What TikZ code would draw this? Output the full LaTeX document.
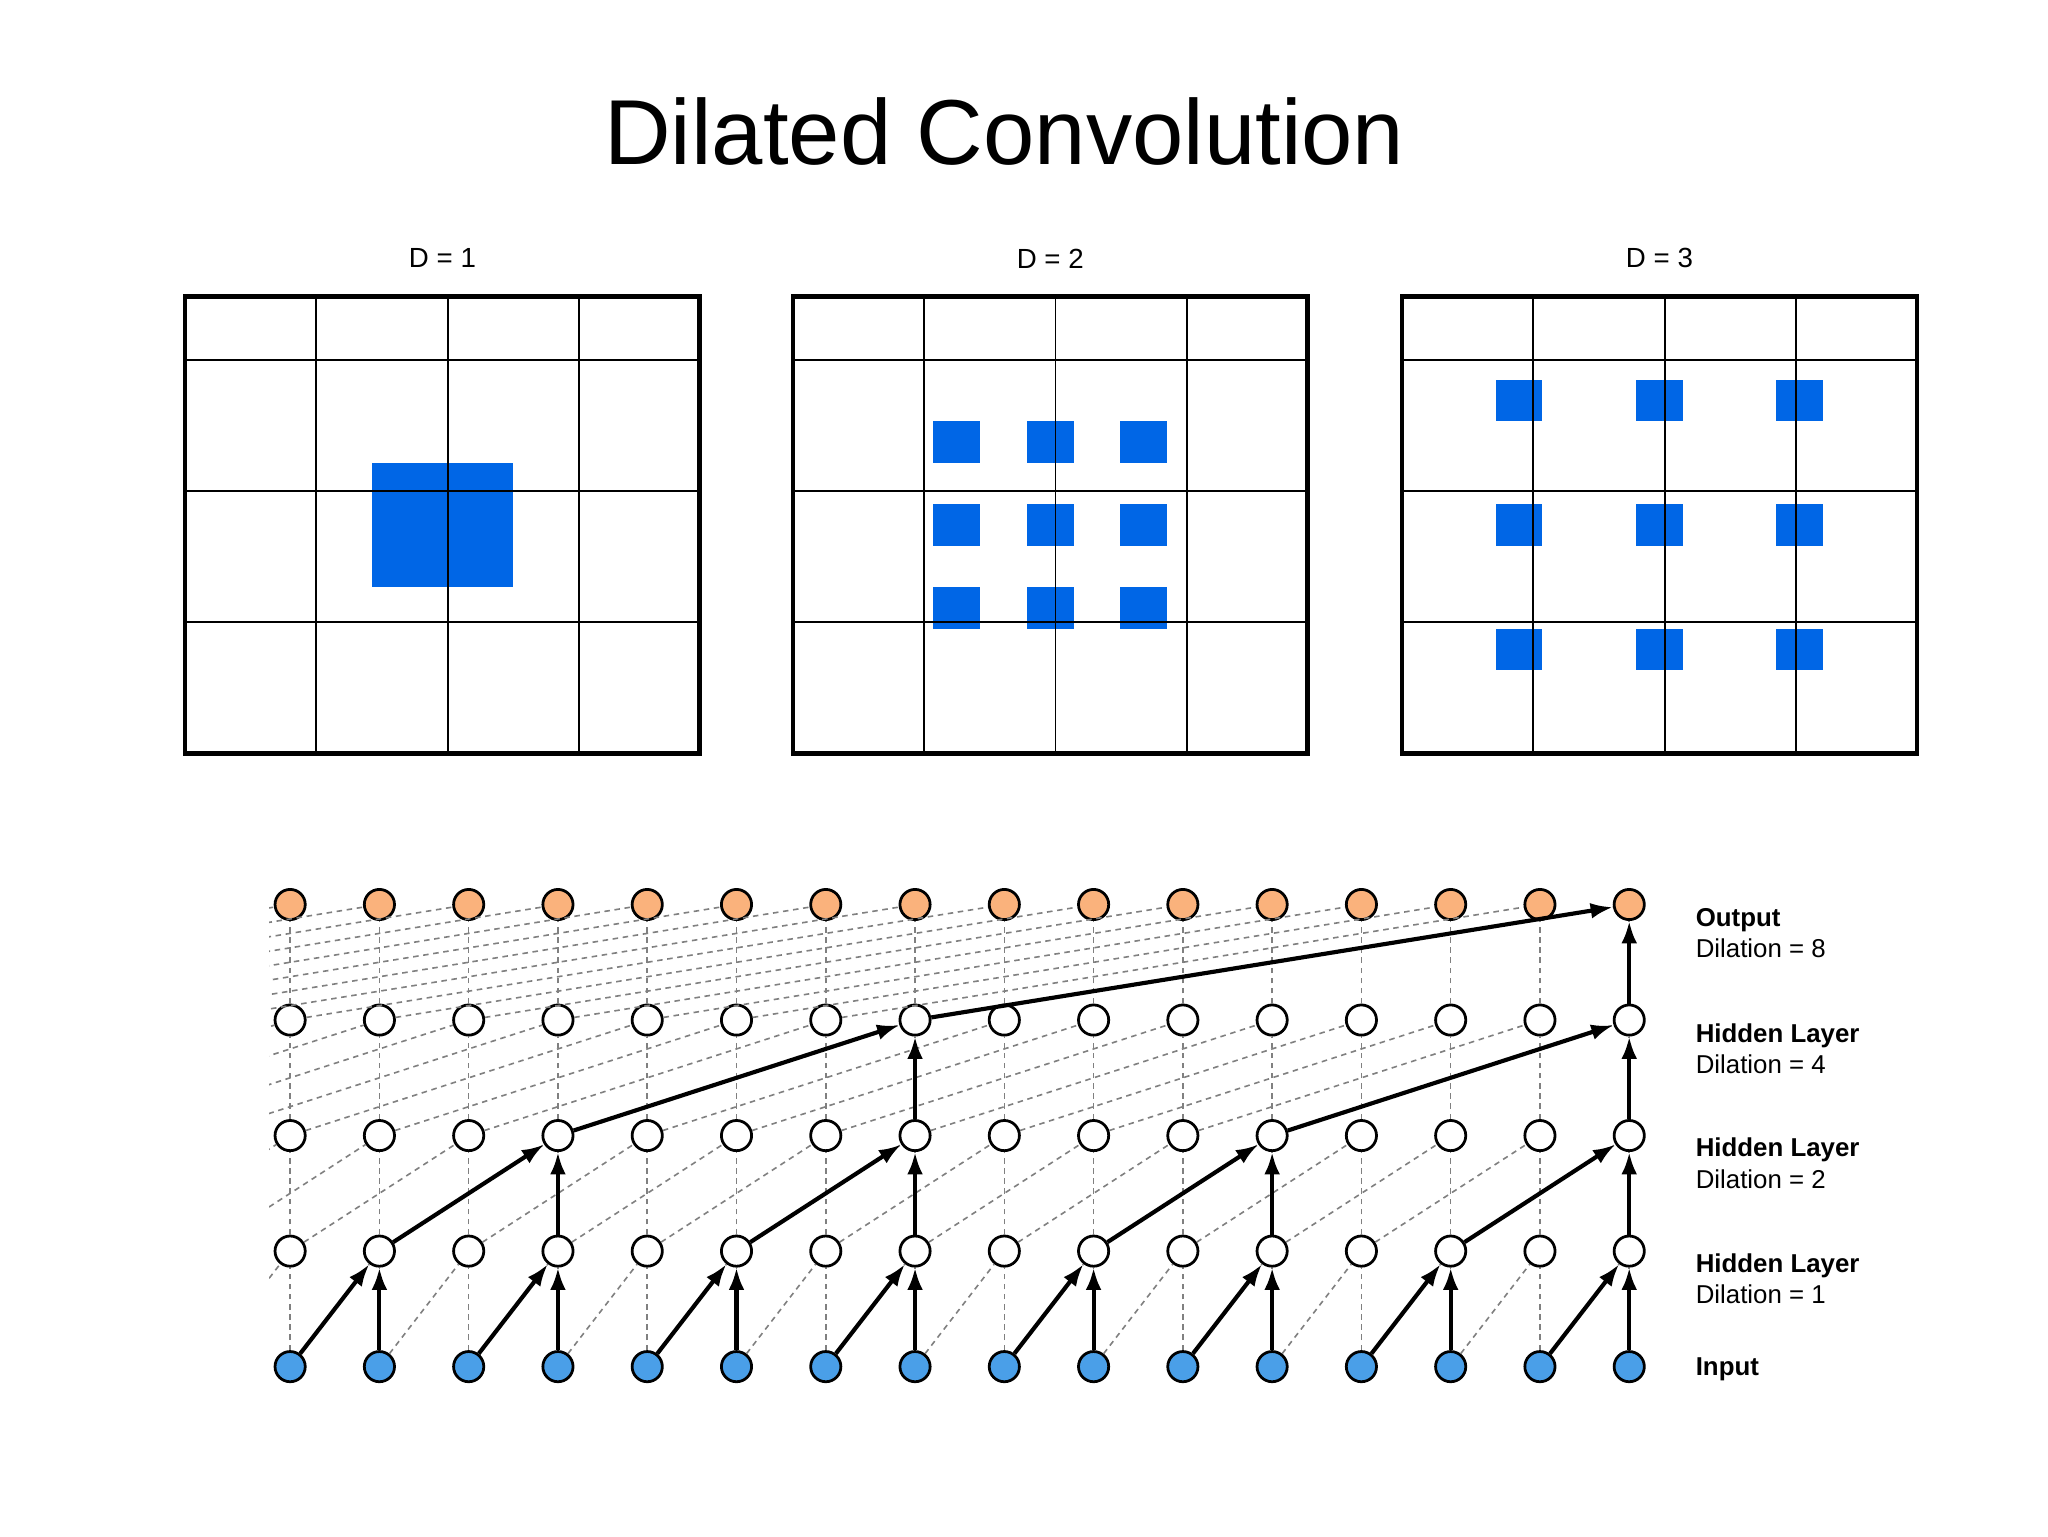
\documentclass[tikz,border=0pt]{standalone}
\usepackage{fontspec}
\setmainfont{Liberation Sans}
\usetikzlibrary{arrows.meta}
\definecolor{cellblue}{RGB}{0,102,230}
\definecolor{inblue}{RGB}{74,159,232}
\definecolor{outorange}{RGB}{250,178,124}
\tikzset{
  unit/.style={circle, draw=black, line width=0.6pt, minimum size=0.23cm, inner sep=0pt},
  link/.style={gray, line width=0.35pt, dash pattern=on 1.2pt off 1pt},
  path/.style={line width=0.9pt, -{Latex[length=1.7mm,width=1.2mm]}},
  lbl/.style={anchor=west, font=\fontsize{5.6}{6}\selectfont, inner sep=0pt}
}
\begin{document}
\begin{tikzpicture}
\useasboundingbox (0,0) rectangle (15.6,11.7);

% title
\node (title) at (7.65,10.7) {\fontsize{20}{24}\selectfont Dilated Convolution};

% the three kernels
\foreach \gx/\d/\first in {1.41/1/4, 6.04/2/3, 10.68/3/2}{
  \begin{scope}[shift={(\gx,5.96)}, x=0.3564cm, y=0.3164cm]
    \foreach \r in {0,1,2}{
      \foreach \c in {0,1,2}{
        \pgfmathtruncatemacro{\cx}{\first+\c*\d}
        \pgfmathtruncatemacro{\cy}{10-\first-\r*\d}
        \fill[cellblue] (\cx,\cy) rectangle ++(1,1);
      }
    }
    \draw[line width=0.4pt] (0,0) grid (11,11);
    \draw[line width=1pt] (0,0) rectangle (11,11);
    \node[font=\fontsize{6}{7}\selectfont] (lab\d) at (5.5,11.92) {D = \d};
  \end{scope}
}

% layers of the network
\foreach \i in {0,...,15}{
  \pgfmathsetmacro{\x}{2.21+0.68*\i}
  \node[unit, fill=inblue] (in\i) at (\x,1.29) {};
  \node[unit, fill=white] (ha\i) at (\x,2.17) {};
  \node[unit, fill=white] (hb\i) at (\x,3.05) {};
  \node[unit, fill=white] (hc\i) at (\x,3.93) {};
  \node[unit, fill=outorange] (out\i) at (\x,4.81) {};
}
% ghost positions left of the first column
\foreach \i in {1,...,8}{
  \pgfmathsetmacro{\x}{2.21-0.68*\i}
  \coordinate (in-\i) at (\x,1.29);
  \coordinate (ha-\i) at (\x,2.17);
  \coordinate (hb-\i) at (\x,3.05);
  \coordinate (hc-\i) at (\x,3.93);
}

% all connections, dashed
\begin{scope}
  \clip (2.05,0.9) rectangle (12.56,5.2);
  \foreach \lo/\up/\d in {in/ha/1, ha/hb/2, hb/hc/4, hc/out/8}{
    \foreach \i in {0,...,15}{
      \pgfmathtruncatemacro{\j}{\i-\d}
      \draw[link] (\lo\i) -- (\up\i);
      \draw[link] (\lo\j) -- (\up\i);
    }
  }
\end{scope}

% receptive field of the last output
\draw[path] (hc15) -- (out15);
\draw[path] (hc7) -- (out15);
\foreach \i in {7,15}{
  \pgfmathtruncatemacro{\j}{\i-4}
  \draw[path] (hb\i) -- (hc\i);
  \draw[path] (hb\j) -- (hc\i);
}
\foreach \i in {3,7,11,15}{
  \pgfmathtruncatemacro{\j}{\i-2}
  \draw[path] (ha\i) -- (hb\i);
  \draw[path] (ha\j) -- (hb\i);
}
\foreach \i in {1,3,...,15}{
  \pgfmathtruncatemacro{\j}{\i-1}
  \draw[path] (in\i) -- (ha\i);
  \draw[path] (in\j) -- (ha\i);
}

% layer names
\node[lbl] (outname) at (12.91,4.69) {\bfseries Output};
\node[lbl] (outdil) at (12.91,4.48) {Dilation = 8};
\node[lbl] (hcname) at (12.91,3.81) {\bfseries Hidden Layer};
\node[lbl] (hcdil) at (12.91,3.59) {Dilation = 4};
\node[lbl] (hbname) at (12.91,2.94) {\bfseries Hidden Layer};
\node[lbl] (hbdil) at (12.91,2.72) {Dilation = 2};
\node[lbl] (haname) at (12.91,2.06) {\bfseries Hidden Layer};
\node[lbl] (hadil) at (12.91,1.84) {Dilation = 1};
\node[lbl] (inname) at (12.91,1.27) {\bfseries Input};
\end{tikzpicture}
\end{document}
